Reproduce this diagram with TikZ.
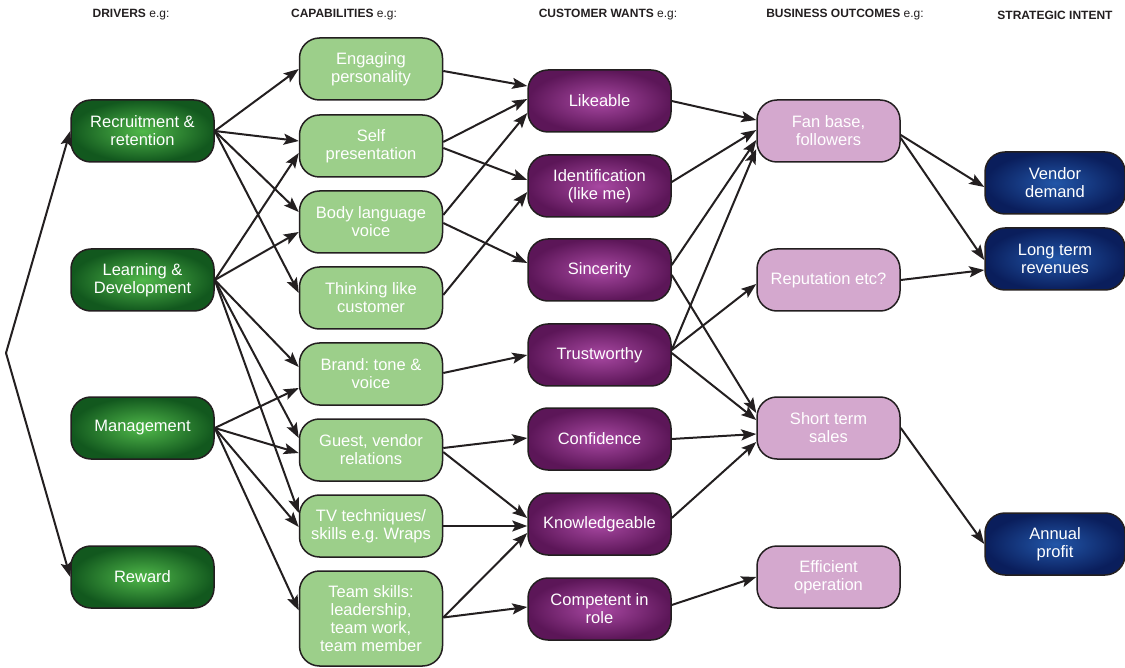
\documentclass[tikz,border=0pt]{standalone}
\usepackage{fontspec}
\setmainfont{Liberation Sans}
\usetikzlibrary{arrows.meta}
\frenchspacing

\definecolor{ink}{HTML}{231F20}
\definecolor{drvIn}{RGB}{80,184,74}
\definecolor{drvOut}{RGB}{18,88,30}
\definecolor{capFill}{RGB}{156,207,138}
\definecolor{wantIn}{RGB}{168,72,162}
\definecolor{wantOut}{RGB}{92,22,88}
\definecolor{outFill}{RGB}{212,168,206}
\definecolor{stratIn}{RGB}{34,86,168}
\definecolor{stratOut}{RGB}{10,30,92}

\tikzset{
  box/.style={draw=ink, line width=1.5pt, rounded corners=20pt,
    minimum width=143pt, minimum height=62pt, inner sep=2pt,
    align=center, text=white, font=\fontsize{16.5}{18}\selectfont},
  driver/.style={box, inner color=drvIn, outer color=drvOut},
  capab/.style={box, fill=capFill},
  want/.style={box, inner color=wantIn, outer color=wantOut},
  outcome/.style={box, fill=outFill},
  strat/.style={box, minimum width=140pt, inner color=stratIn, outer color=stratOut},
  link/.style={draw=ink, line width=2pt, -{Stealth[length=15pt,width=11pt,inset=3pt]}},
  head/.style={text=ink, font=\fontsize{12}{14}\selectfont}
}

\begin{document}
\begin{tikzpicture}[x=1pt,y=-1pt]
\useasboundingbox (0,0) rectangle (1125,668);

% column headings
\node[head] (h1) at (131,15)  {\textbf{DRIVERS} e.g:};
\node[head] (h2) at (344,15)  {\textbf{CAPABILITIES} e.g:};
\node[head] (h3) at (608,15)  {\textbf{CUSTOMER WANTS} e.g:};
\node[head] (h4) at (845,15)  {\textbf{BUSINESS OUTCOMES} e.g:};
\node[head] (h5) at (1055,15) {\textbf{STRATEGIC INTENT}};

% drivers
\node[driver] (rec) at (142.5,131) {Recruitment \&\\retention};
\node[driver] (lrn) at (142.5,280) {Learning \&\\Development};
\node[driver] (mgt) at (142.5,428) {Management};
\node[driver] (rew) at (142.5,577) {Reward};

% capabilities
\node[capab] (eng)   at (371,69)  {Engaging\\personality};
\node[capab] (self)  at (371,146) {Self\\presentation};
\node[capab] (body)  at (371,222) {Body language\\voice};
\node[capab] (think) at (371,298) {Thinking like\\customer};
\node[capab] (brand) at (371,374) {Brand: tone \&\\voice};
\node[capab] (guest) at (371,450) {Guest, vendor\\relations};
\node[capab] (tv)    at (371,526) {TV techniques/\\skills e.g. Wraps};
\node[capab, minimum height=95pt] (team) at (371,618.5) {Team skills:\\leadership,\\team work,\\team member};

% customer wants
\node[want] (like)  at (599.5,101) {Likeable};
\node[want] (ident) at (599.5,186) {Identification\\(like me)};
\node[want] (sinc)  at (599.5,270) {Sincerity};
\node[want] (trust) at (599.5,355) {Trustworthy};
\node[want] (conf)  at (599.5,439) {Confidence};
\node[want] (know)  at (599.5,524) {Knowledgeable};
\node[want] (comp)  at (599.5,609) {Competent in\\role};

% business outcomes
\node[outcome] (fan)   at (828.5,131) {Fan base,\\followers};
\node[outcome] (rep)   at (828.5,280) {Reputation etc?};
\node[outcome] (short) at (828.5,428) {Short term\\sales};
\node[outcome] (eff)   at (828.5,577) {Efficient\\operation};

% strategic intent
\node[strat] (vend)   at (1055,183) {Vendor\\demand};
\node[strat] (long)   at (1055,259) {Long term\\revenues};
\node[strat] (annual) at (1055,544) {Annual\\profit};

% bracket joining first and last driver
\coordinate (apex) at (6,353);
\draw[link] (apex) -- (rec.west);
\draw[link] (apex) -- (rew.west);

% drivers -> capabilities
\draw[link] (rec.east) -- (eng.west);
\draw[link] (rec.east) -- ([yshift=5pt]self.west);
\draw[link] (rec.east) -- ([yshift=10pt]body.west);
\draw[link] (rec.east) -- ([yshift=5pt]think.west);
\draw[link] (lrn.east) -- ([yshift=-7pt]self.west);
\draw[link] (lrn.east) -- ([yshift=-10pt]body.west);
\draw[link] (lrn.east) -- ([yshift=7pt]brand.west);
\draw[link] (lrn.east) -- ([yshift=12pt]guest.west);
\draw[link] (lrn.east) -- ([yshift=13pt]tv.west);
\draw[link] (mgt.east) -- ([yshift=-14pt]brand.west);
\draw[link] (mgt.east) -- ([yshift=-3pt]guest.west);
\draw[link] (mgt.east) -- ([yshift=-1pt]tv.west);
\draw[link] (mgt.east) -- ([yshift=8pt]team.west);

% capabilities -> customer wants
\draw[link] ([yshift=-2pt]eng.east)   -- ([yshift=15pt]like.west);
\draw[link] ([yshift=4pt]self.east)   -- ([yshift=2pt]like.west);
\draw[link] ([yshift=-2pt]self.east)  -- ([yshift=6pt]ident.west);
\draw[link] ([yshift=7pt]body.east)   -- ([yshift=-12pt]like.west);
\draw[link] ([yshift=-1pt]body.east)  -- ([yshift=7pt]sinc.west);
\draw[link] ([yshift=3pt]think.east)  -- ([yshift=-6pt]ident.west);
\draw[link] ([yshift=1pt]brand.east)  -- (trust.west);
\draw[link] ([yshift=2pt]guest.east)  -- ([yshift=1pt]conf.west);
\draw[link] ([yshift=-2pt]guest.east) -- ([yshift=6pt]know.west);
\draw[link] (tv.east)                 -- ([yshift=-2pt]know.west);
\draw[link] ([yshift=1pt]team.east)   -- ([yshift=-9pt]know.west);
\draw[link] ([yshift=1pt]team.east)   -- ([yshift=2pt]comp.west);

% customer wants -> business outcomes
\draw[link] (like.east)                -- ([yshift=11pt]fan.west);
\draw[link] ([yshift=4pt]ident.east)   -- ([yshift=1pt]fan.west);
\draw[link] ([yshift=5pt]sinc.east)    -- ([yshift=-9pt]fan.west);
\draw[link] ([yshift=5pt]trust.east)   -- ([yshift=-18pt]fan.west);
\draw[link] ([yshift=-5pt]sinc.east)   -- ([yshift=15pt]short.west);
\draw[link] ([yshift=5pt]trust.east)   -- ([yshift=-4pt]rep.west);
\draw[link] ([yshift=2pt]trust.east)   -- ([yshift=8pt]short.west);
\draw[link] (conf.east)                -- ([yshift=-6pt]short.west);
\draw[link] ([yshift=6pt]know.east)    -- ([yshift=-14pt]short.west);
\draw[link] ([yshift=4pt]comp.east)    -- (eff.west);

% business outcomes -> strategic intent
\draw[link] ([yshift=-4pt]fan.east)   -- ([yshift=-4pt]vend.west);
\draw[link] ([yshift=-7pt]fan.east)   -- ([yshift=-1pt]long.west);
\draw[link] (rep.east)                -- ([yshift=-11pt]long.west);
\draw[link] (short.east)              -- (annual.west);
\end{tikzpicture}
\end{document}
